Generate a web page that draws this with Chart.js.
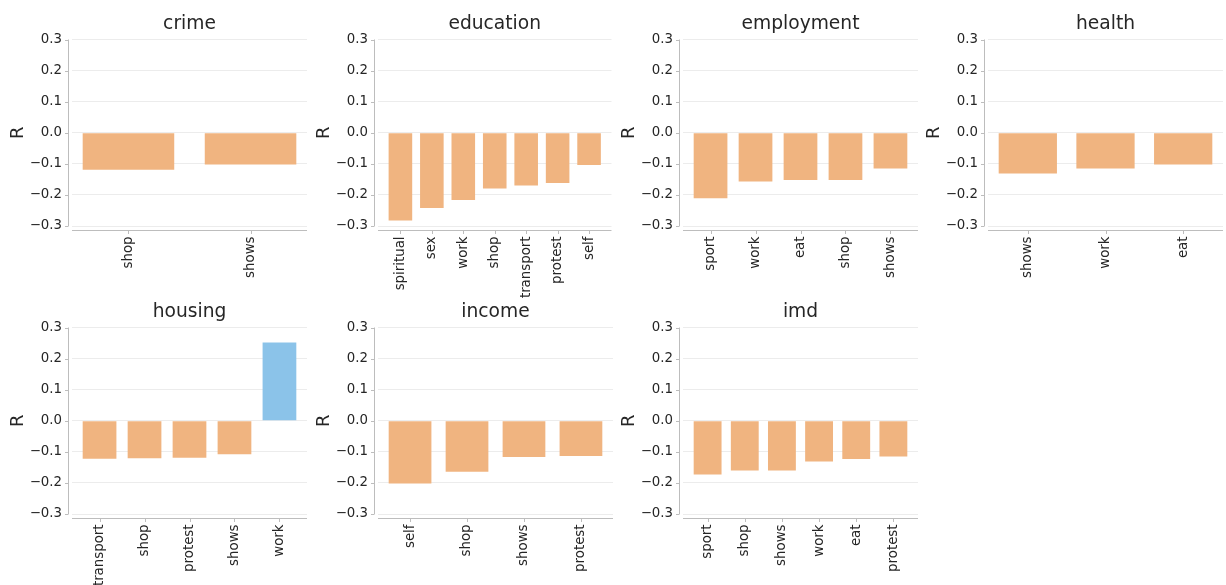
<!DOCTYPE html>
<html>
<head>
<meta charset="utf-8">
<script src="https://cdn.jsdelivr.net/npm/chart.js@4.4.0/dist/chart.umd.min.js"></script>
<style>
  body { margin: 0; background: #fff; }
  #fig { position: relative; width: 1226px; height: 585px; overflow: hidden; background: #fff; }
  #fig canvas { position: absolute; }
</style>
</head>
<body>
<div id="fig"></div>
<script>
// correlation (R) of each activity with each deprivation domain
const crimeCats = ['shop', 'shows'];
const crimeR = [-0.119, -0.102];

const educationCats = ['spiritual', 'sex', 'work', 'shop', 'transport', 'protest', 'self'];
const educationR = [-0.282, -0.242, -0.216, -0.179, -0.170, -0.162, -0.104];

const employmentCats = ['sport', 'work', 'eat', 'shop', 'shows'];
const employmentR = [-0.211, -0.157, -0.152, -0.152, -0.115];

const healthCats = ['shows', 'work', 'eat'];
const healthR = [-0.131, -0.115, -0.102];

const housingCats = ['transport', 'shop', 'protest', 'shows', 'work'];
const housingR = [-0.122, -0.121, -0.119, -0.108, 0.252];

const incomeCats = ['self', 'shop', 'shows', 'protest'];
const incomeR = [-0.202, -0.164, -0.117, -0.113];

const imdCats = ['sport', 'shop', 'shows', 'work', 'eat', 'protest'];
const imdR = [-0.173, -0.160, -0.160, -0.131, -0.123, -0.115];

const yTicks = [-0.3, -0.2, -0.1, 0.0, 0.1, 0.2, 0.3];

const panels = [
  ['crime', crimeCats, crimeR],
  ['education', educationCats, educationR],
  ['employment', employmentCats, employmentR],
  ['health', healthCats, healthR],
  ['housing', housingCats, housingR],
  ['income', incomeCats, incomeR],
  ['imd', imdCats, imdR]
];

const colLeft = [0, 306, 611, 916];
const rowTop = [0, 288];
const rowHeight = [300, 297];
const CW = 310;
const BAR_W = 0.75;

Chart.defaults.font.family = "'DejaVu Sans', sans-serif";
Chart.defaults.color = '#262626';

function fmt(v) {
  if (Math.abs(v) < 1e-9) return '0.0';
  return v.toFixed(1).replace('-', '\u2212');
}

// offset spines with small tick marks (seaborn despine look)
const spines = {
  id: 'spines',
  afterDraw(chart) {
    const { ctx, chartArea: a, scales: { x, y } } = chart;
    ctx.save();
    ctx.strokeStyle = '#bdbdbd';
    ctx.lineWidth = 1;
    ctx.beginPath();
    const sx = Math.round(a.left - 4) + 0.5;
    ctx.moveTo(sx, y.getPixelForValue(yTicks[yTicks.length - 1]));
    ctx.lineTo(sx, y.getPixelForValue(yTicks[0]));
    y.ticks.forEach(t => {
      const py = Math.round(y.getPixelForValue(t.value)) + 0.5;
      ctx.moveTo(sx - 3.5, py);
      ctx.lineTo(sx, py);
    });
    const sy = Math.round(a.bottom + 4) + 0.5;
    ctx.moveTo(a.left, sy);
    ctx.lineTo(a.right, sy);
    x.ticks.forEach(t => {
      const px = Math.round(x.getPixelForValue(t.value)) + 0.5;
      ctx.moveTo(px, sy);
      ctx.lineTo(px, sy + 3.5);
    });
    ctx.stroke();
    ctx.restore();
  }
};

const fig = document.getElementById('fig');

panels.forEach((p, k) => {
  const [title, cats, vals] = p;
  const row = Math.floor(k / 4), col = k % 4;
  const H = rowHeight[row];
  const canvas = document.createElement('canvas');
  canvas.width = CW;
  canvas.height = H;
  canvas.style.left = colLeft[col] + 'px';
  canvas.style.top = rowTop[row] + 'px';
  fig.appendChild(canvas);

  const n = cats.length;
  const span = n - 1 + BAR_W;
  const pad = 0.05 * span;

  new Chart(canvas.getContext('2d'), {
    type: 'bar',
    data: {
      datasets: [{
        data: vals.map((v, i) => ({ x: i, y: v })),
        backgroundColor: vals.map(v => v >= 0 ? 'rgba(139,195,233,1)' : 'rgba(240,180,128,1)'),
        borderWidth: 0,
        categoryPercentage: 1,
        barPercentage: BAR_W
      }]
    },
    options: {
      responsive: false,
      animation: false,
      layout: { padding: { left: 0, top: 0, right: CW - 307, bottom: 0 } },
      plugins: {
        legend: { display: false },
        tooltip: { enabled: false },
        title: {
          display: true,
          fullSize: false,
          text: title,
          font: { size: 18.67, weight: 'normal' },
          color: '#262626',
          padding: { top: 13.3, bottom: 3.8 }
        }
      },
      scales: {
        x: {
          type: 'linear',
          offset: false,
          min: -BAR_W / 2 - pad,
          max: n - 1 + BAR_W / 2 + pad,
          grid: { display: false, drawTicks: false, offset: false },
          border: { display: false },
          afterBuildTicks: s => { s.ticks = cats.map((c, i) => ({ value: i })); },
          afterFit: s => { s.height = H - 226; },
          ticks: {
            autoSkip: false,
            minRotation: 90,
            maxRotation: 90,
            padding: 10.5,
            font: { size: 13.33 },
            color: '#262626',
            callback: (v, i) => cats[i]
          }
        },
        y: {
          min: yTicks[0],
          max: yTicks[yTicks.length - 1],
          grid: { color: '#ececec', lineWidth: 1, drawTicks: false },
          border: { display: false },
          afterBuildTicks: s => { s.ticks = yTicks.map(v => ({ value: v })); },
          afterFit: s => { s.width = 72; },
          ticks: {
            padding: 10,
            font: { size: 13.33 },
            color: '#262626',
            callback: v => fmt(v)
          },
          title: {
            display: true,
            text: 'R',
            font: { size: 18 },
            color: '#262626',
            padding: { top: 7.7, bottom: 0 }
          }
        }
      }
    },
    plugins: [spines]
  });
});
</script>
</body>
</html>
